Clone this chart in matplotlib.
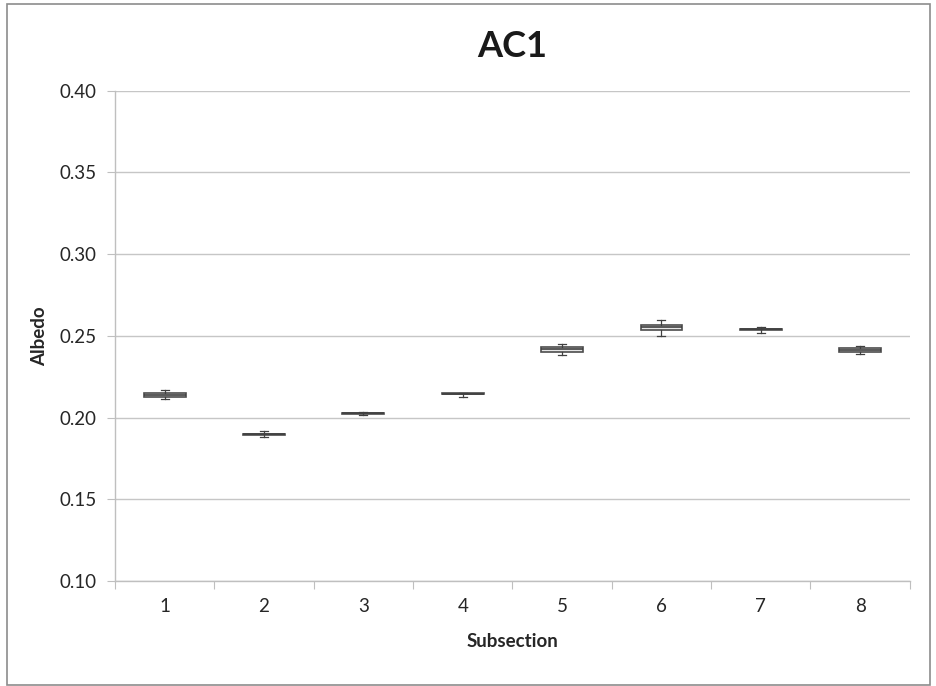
import matplotlib

matplotlib.use("Agg")
import matplotlib.pyplot as plt
from matplotlib.patches import Rectangle
import numpy as np

plt.rcParams["font.family"] = ["Lato", "DejaVu Sans"]

# albedo summary per subsection
subsections = [1, 2, 3, 4, 5, 6, 7, 8]
whisker_low = [0.2114, 0.1880, 0.2018, 0.2125, 0.2384, 0.2500, 0.2517, 0.2392]
q1 = [0.2124, 0.1893, 0.2022, 0.2142, 0.2402, 0.2537, 0.2535, 0.2402]
median = [0.2138, 0.1897, 0.2026, 0.2145, 0.2418, 0.2553, 0.2539, 0.2414]
q3 = [0.2152, 0.1900, 0.2030, 0.2148, 0.2432, 0.2568, 0.2545, 0.2426]
whisker_high = [0.2171, 0.1920, 0.2035, 0.2150, 0.2448, 0.2597, 0.2555, 0.2440]

stats = [
    {"whislo": lo, "q1": a, "med": m, "q3": b, "whishi": hi, "label": str(s)}
    for s, lo, a, m, b, hi in zip(subsections, whisker_low, q1, median, q3, whisker_high)
]

fig = plt.figure(figsize=(9.37, 6.86), dpi=100)
ax = fig.add_axes([0.1227, 0.153, 0.8483, 0.7148])

ax.bxp(
    stats,
    positions=subsections,
    widths=0.42,
    showfliers=False,
    patch_artist=True,
    boxprops=dict(facecolor="#e6e6e6", edgecolor="#4d4d4d", linewidth=1.2),
    medianprops=dict(color="#404040", linewidth=1.2),
    whiskerprops=dict(color="#404040", linewidth=0.9),
    capprops=dict(color="#404040", linewidth=0.9),
    capwidths=0.08,
)

ax.set_xlim(0.5, 8.5)
ax.set_ylim(0.10, 0.40)
ax.set_yticks(np.arange(0.10, 0.401, 0.05))
ax.set_yticklabels([f"{v:.2f}" for v in np.arange(0.10, 0.401, 0.05)])

# category labels in the middle, tick marks on the boundaries
ax.set_xticks(np.arange(0.5, 8.6, 1.0))
ax.set_xticklabels([])
ax.set_xticks(subsections, minor=True)
ax.set_xticklabels([str(s) for s in subsections], minor=True)
ax.tick_params(axis="x", which="major", length=6, color="#bfbfbf")
ax.tick_params(axis="x", which="minor", length=0, pad=12, labelsize=13.5, labelcolor="#262626")
ax.tick_params(axis="y", length=6, color="#bfbfbf", labelsize=13.5, labelcolor="#262626", pad=7)

ax.grid(axis="y", color="#c6c6c6", linewidth=1.0)
ax.set_axisbelow(True)
for side in ("top", "right"):
    ax.spines[side].set_visible(False)
for side in ("left", "bottom"):
    ax.spines[side].set_color("#bfbfbf")
    ax.spines[side].set_linewidth(1.0)

ax.set_title("AC1", fontsize=26, fontweight="bold", color="#1a1a1a", pad=24)
ax.set_xlabel("Subsection", fontsize=13.5, fontweight="bold", color="#262626", labelpad=13)
ax.set_ylabel("Albedo", fontsize=13.5, fontweight="bold", color="#262626", labelpad=8)

# chart border
fig.add_artist(Rectangle((7 / 937, 1 / 686), 923 / 937, 681 / 686,
                         transform=fig.transFigure, fill=False,
                         edgecolor="#8c8c8c", linewidth=1.2))

fig.savefig("out.png", dpi=100)
